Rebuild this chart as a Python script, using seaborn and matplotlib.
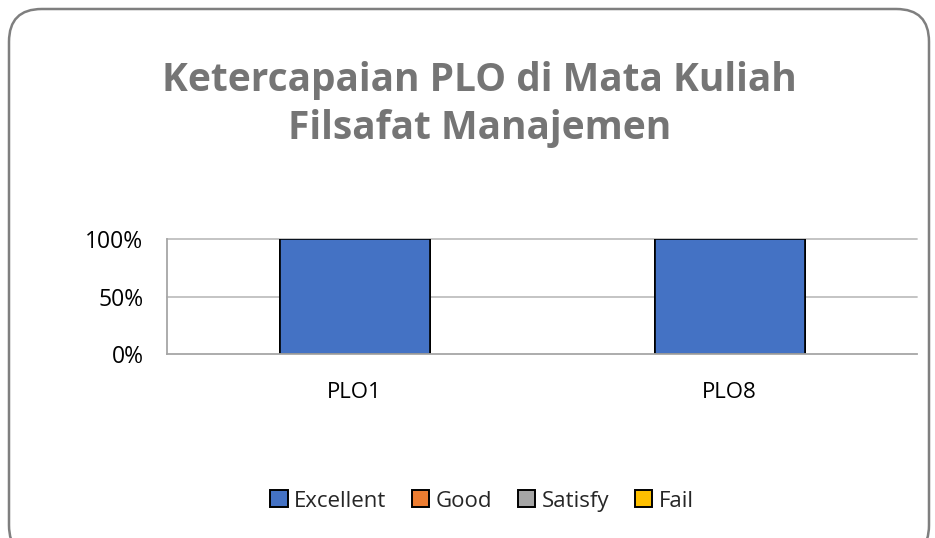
import numpy as np
import pandas as pd
import matplotlib.pyplot as plt
import matplotlib.ticker as mticker
from matplotlib.patches import FancyBboxPatch, Patch
import seaborn as sns

# ── data ──────────────────────────────────────────────────────────────────────
plos = ["PLO1", "PLO8"]
excellent = [1.0, 1.0]
good = [0.0, 0.0]
satisfy = [0.0, 0.0]
fail = [0.0, 0.0]

series = ["Excellent", "Good", "Satisfy", "Fail"]
colors = {"Excellent": "#4472C4", "Good": "#ED7D31",
          "Satisfy": "#A5A5A5", "Fail": "#FFC000"}

sns.set_style("white")
plt.rcParams["font.family"] = ["Open Sans", "DejaVu Sans"]

fig = plt.figure(figsize=(9.35, 5.38), dpi=100)
fig.patch.set_facecolor("white")

# rounded outer frame (bottom edge runs off the image)
frame = FancyBboxPatch((9 / 935, -20 / 538), 920 / 935, 549 / 538,
                       boxstyle="round,pad=0,rounding_size=0.035",
                       transform=fig.transFigure, facecolor="white",
                       edgecolor="#7f7f7f", lw=1.8, mutation_aspect=935 / 538,
                       zorder=-5)
fig.patches.append(frame)

ax = fig.add_axes([167 / 935, 1 - 354 / 538, 750 / 935, 115 / 538])
ax.set_facecolor("none")
ax.set_zorder(2)

df = pd.DataFrame({"plo": plos, "Excellent": excellent, "Good": good,
                   "Satisfy": satisfy, "Fail": fail})

# stacked bars: draw cumulative totals from the top down
cum = df[series].cumsum(axis=1)
for s in reversed(series):
    sns.barplot(x=df["plo"], y=cum[s], color=colors[s], width=0.4,
                edgecolor="black", linewidth=1.2, saturation=1, ax=ax)

ax.set_ylim(0, 1)
ax.set_yticks([0, 0.5, 1.0])
ax.yaxis.set_major_formatter(mticker.PercentFormatter(xmax=1, decimals=0))
for yv in [0.5, 1.0]:
    ax.axhline(yv, color="#bfbfbf", lw=1.3, zorder=0, clip_on=False)

for side in ["top", "right"]:
    ax.spines[side].set_visible(False)
for side in ["left", "bottom"]:
    ax.spines[side].set_color("#a6a6a6")
    ax.spines[side].set_linewidth(1.3)

ax.set_xlabel("")
ax.set_ylabel("")
ax.tick_params(axis="both", length=0, colors="black")
ax.tick_params(axis="x", pad=20, labelsize=16)
ax.tick_params(axis="y", pad=17, labelsize=16.5)

fig.text(0.513, 1 - 104 / 538, "Ketercapaian PLO di Mata Kuliah\nFilsafat Manajemen",
         ha="center", va="center", fontsize=28, fontweight="bold",
         color="#757575", linespacing=1.3)

handles = [Patch(facecolor=colors[s], edgecolor="black", lw=1.4, label=s)
           for s in series]
fig.legend(handles=handles, loc="center", bbox_to_anchor=(482 / 935, 1 - 501 / 538),
           ncol=4, frameon=False, fontsize=16, handlelength=0.77,
           handleheight=0.77, handletextpad=0.3, columnspacing=1.15)

fig.savefig("out.png", dpi=100)
